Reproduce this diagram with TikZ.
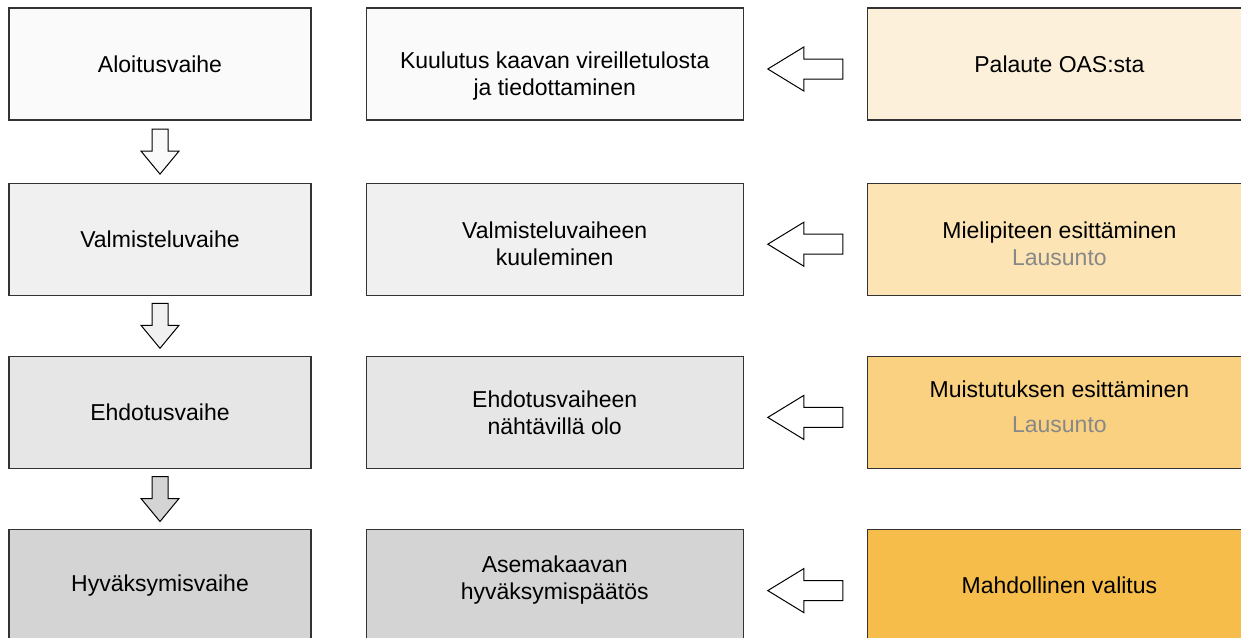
\documentclass[tikz,border=0pt]{standalone}
\usepackage{fontspec}
\setmainfont{Liberation Sans}
\usetikzlibrary{calc,positioning}

\definecolor{phA}{HTML}{FAFAFA}
\definecolor{phB}{HTML}{F0F0F0}
\definecolor{phC}{HTML}{E6E6E6}
\definecolor{phD}{HTML}{D4D4D4}
\definecolor{fbA}{HTML}{FCF0DA}
\definecolor{fbB}{HTML}{FCE4B4}
\definecolor{fbC}{HTML}{F9D181}
\definecolor{fbD}{HTML}{F6BD4B}
\definecolor{note}{HTML}{888888}

\tikzset{
  box/.style={draw=black!80,line width=0.6pt,minimum width=151pt,minimum height=56pt,
    align=center,inner sep=0pt,font=\fontsize{11.5}{13.5}\selectfont},
  wide/.style={box,minimum width=188.5pt},
  downarr/.pic={\draw[pic actions] (-8,0) -- (-8,22) -- (-19,22) -- (0,45) -- (19,22) -- (8,22) -- (8,0) -- cycle;},
  leftarr/.pic={\draw[pic actions] (0,0) -- (36,-22) -- (36,-10) -- (75,-10) -- (75,10) -- (36,10) -- (36,22) -- cycle;}
}

\begin{document}
\begin{tikzpicture}[x=0.5pt,y=-0.5pt]
\useasboundingbox (0,0) rectangle (1241,637);

% phases
\node[box,fill=phA] (ph1) at (160,64) {Aloitusvaihe};
\node[box,fill=phB,below=31pt of ph1] (ph2) {Valmisteluvaihe};
\node[box,fill=phC,below=30pt of ph2] (ph3) {Ehdotusvaihe};
\node[box,fill=phD,below=30pt of ph3] (ph4) {Hyväksymisvaihe};

% events
\node[wide,fill=phA,right=27pt of ph1,text height=34pt] (ev1) {Kuulutus kaavan vireilletulosta\\ja tiedottaminen};
\node[wide,fill=phB,right=27pt of ph2,text height=26.5pt] (ev2) {Valmisteluvaiheen\\kuuleminen};
\node[wide,fill=phC,right=27pt of ph3] (ev3) {Ehdotusvaiheen\\nähtävillä olo};
\node[wide,fill=phD,right=27pt of ph4,text height=16pt] (ev4) {Asemakaavan\\hyväksymispäätös};

% feedback
\node[wide,fill=fbA,right=61.5pt of ev1,minimum width=192pt] (fb1) {Palaute OAS:sta};
\node[wide,fill=fbB,right=61.5pt of ev2,minimum width=192pt,text height=26.5pt] (fb2) {Mielipiteen esittäminen\\{\color{note}Lausunto}};
\node[wide,fill=fbC,right=61.5pt of ev3,minimum width=192pt,text height=20.5pt] (fb3) {Muistutuksen esittäminen\\[4pt]{\color{note}Lausunto}};
\node[wide,fill=fbD,right=61.5pt of ev4,minimum width=192pt] (fb4) {Mahdollinen valitus};

% arrows
\pic[fill=phA,line width=0.5pt] at ($(ph1.south)!0.5!(ph2.north)+(0,-22.5)$) {downarr};
\pic[fill=phB,line width=0.5pt] at ($(ph2.south)!0.5!(ph3.north)+(0,-22.5)$) {downarr};
\pic[fill=phD,line width=0.5pt] at ($(ph3.south)!0.5!(ph4.north)+(0,-22.5)$) {downarr};
\foreach \i in {1,...,4}
  \pic[fill=white,line width=0.5pt] at ($(ev\i.east)+(24,5)$) {leftarr};
\end{tikzpicture}
\end{document}
